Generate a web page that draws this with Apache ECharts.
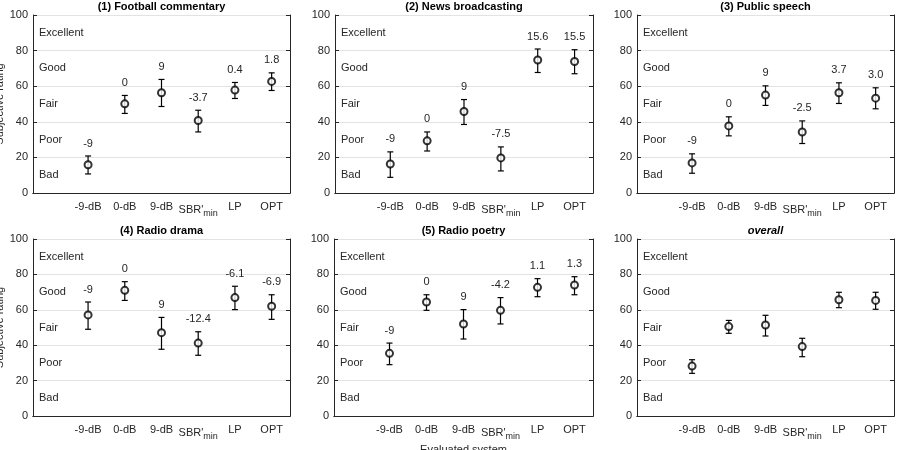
<!DOCTYPE html>
<html>
<head>
<meta charset="utf-8">
<script src="https://cdn.jsdelivr.net/npm/echarts@6/dist/echarts.min.js"></script>
<style>
  html, body { margin: 0; padding: 0; background: #fff; }
  #chart { width: 899px; height: 450px; }
</style>
</head>
<body>
<div id="chart"></div>
<script>
// first slot is left blank, like the original x limits
var categories = ['', '-9-dB', '0-dB', '9-dB', "SBR'min", 'LP', 'OPT'];
var levelNames = ['Excellent', 'Good', 'Fair', 'Poor', 'Bad'];
var levelValues = [90, 70, 50, 30, 10];
var yTicks = [0, 20, 40, 60, 80, 100];

var titles = ['(1) Football commentary', '(2) News broadcasting', '(3) Public speech',
              '(4) Radio drama', '(5) Radio poetry', 'overall'];

var footballMean  = [15.9, 50.1, 56.3, 40.7, 57.8, 62.7];
var footballUpper = [20.8, 54.8, 63.8, 46.5, 62.1, 67.5];
var footballLower = [10.7, 44.7, 48.6, 34.3, 53.1, 57.6];
var footballText  = ['-9', '0', '9', '-3.7', '0.4', '1.8'];

var newsMean  = [16.3, 29.3, 45.8, 19.7, 74.7, 73.9];
var newsUpper = [23.1, 34.3, 52.5, 25.9, 80.9, 80.5];
var newsLower = [8.8, 23.6, 38.5, 12.4, 67.7, 67.0];
var newsText  = ['-9', '0', '9', '-7.5', '15.6', '15.5'];

var speechMean  = [16.9, 37.7, 55.0, 34.3, 56.3, 53.3];
var speechUpper = [22.0, 42.8, 60.2, 40.5, 61.9, 59.1];
var speechLower = [11.1, 32.1, 49.2, 27.8, 50.3, 47.3];
var speechText  = ['-9', '0', '9', '-2.5', '3.7', '3.0'];

var dramaMean  = [57.1, 71.0, 47.1, 41.2, 66.9, 62.0];
var dramaUpper = [64.4, 75.9, 55.7, 47.6, 73.3, 68.5];
var dramaLower = [49.0, 65.3, 37.7, 34.3, 60.1, 54.6];
var dramaText  = ['-9', '0', '9', '-12.4', '-6.1', '-6.9'];

var poetryMean  = [35.4, 64.4, 52.0, 59.7, 72.7, 74.0];
var poetryUpper = [41.2, 68.5, 60.1, 66.9, 77.6, 78.7];
var poetryLower = [29.0, 59.7, 43.5, 52.0, 67.4, 68.5];
var poetryText  = ['-9', '0', '9', '-4.2', '1.1', '1.3'];

var overallMean  = [28.2, 50.5, 51.4, 39.2, 65.7, 65.3];
var overallUpper = [31.8, 54.0, 56.9, 43.9, 69.9, 69.9];
var overallLower = [24.1, 46.7, 45.2, 33.5, 61.2, 60.3];
var overallText  = ['', '', '', '', '', ''];

var panels = [
  {mean: footballMean, upper: footballUpper, lower: footballLower, text: footballText},
  {mean: newsMean, upper: newsUpper, lower: newsLower, text: newsText},
  {mean: speechMean, upper: speechUpper, lower: speechLower, text: speechText},
  {mean: dramaMean, upper: dramaUpper, lower: dramaLower, text: dramaText},
  {mean: poetryMean, upper: poetryUpper, lower: poetryLower, text: poetryText},
  {mean: overallMean, upper: overallUpper, lower: overallLower, text: overallText}
];

var grids = [
  {left: 33, top: 15, width: 257, height: 178},
  {left: 335, top: 15, width: 258, height: 178},
  {left: 637, top: 15, width: 257, height: 178},
  {left: 33, top: 239, width: 257, height: 177},
  {left: 334, top: 239, width: 259, height: 177},
  {left: 637, top: 239, width: 257, height: 177}
];

var FONT = '"Liberation Sans", Arial, Helvetica, sans-serif';
var INK = '#262626';

var chart = echarts.init(document.getElementById('chart'));

var option = {
  backgroundColor: '#fff',
  animation: false,
  textStyle: {fontFamily: FONT},
  title: [],
  grid: [],
  xAxis: [],
  yAxis: [],
  series: []
};

grids.forEach(function (g, i) {
  option.grid.push({left: g.left, top: g.top, width: g.width, height: g.height,
                    containLabel: false, outerBoundsMode: 'none'});
  option.title.push({
    text: titles[i],
    left: g.left + g.width / 2,
    top: g.top - 14,
    padding: 0,
    textAlign: 'center',
    textStyle: {fontFamily: FONT, fontSize: 11, fontWeight: 'bold',
                fontStyle: i === 5 ? 'italic' : 'normal', color: '#000'}
  });

  // bottom x axis
  option.xAxis.push({
    type: 'category', gridIndex: i, data: categories, position: 'bottom',
    name: i === 4 ? 'Evaluated system' : '',
    nameLocation: 'middle', nameGap: 28,
    nameTextStyle: {fontFamily: FONT, fontSize: 11, color: INK},
    axisLine: {lineStyle: {color: INK, width: 1}},
    axisTick: {inside: true, length: 4, alignWithLabel: true,
               interval: function (idx) { return idx > 0; },
               lineStyle: {color: INK}},
    axisLabel: {
      interval: 0, margin: 8, color: INK, fontSize: 11, fontFamily: FONT,
      formatter: function (v) { return v === "SBR'min" ? "SBR'{sub|min}" : v; },
      rich: {sub: {fontSize: 9, fontFamily: FONT, color: INK, verticalAlign: 'bottom', padding: [8, 0, 0, 0]}}
    },
    splitLine: {show: false}
  });
  // top x axis (box)
  option.xAxis.push({
    type: 'category', gridIndex: i, data: categories, position: 'top',
    axisLine: {lineStyle: {color: INK, width: 1}},
    axisTick: {inside: true, length: 4, alignWithLabel: true,
               interval: function (idx) { return idx > 0; },
               lineStyle: {color: INK}},
    axisLabel: {show: false},
    splitLine: {show: false}
  });
  // left y axis
  option.yAxis.push({
    type: 'value', gridIndex: i, min: yTicks[0], max: yTicks[yTicks.length - 1], interval: 20,
    position: 'left',
    name: (i === 0 || i === 3) ? 'Subjective rating' : '',
    nameLocation: 'middle', nameGap: 26,
    nameTextStyle: {fontFamily: FONT, fontSize: 11, color: INK},
    axisLine: {show: true, lineStyle: {color: INK, width: 1}},
    axisTick: {show: true, inside: true, length: 4, lineStyle: {color: INK}},
    axisLabel: {color: INK, fontSize: 11, fontFamily: FONT, margin: 5},
    splitLine: {show: true, lineStyle: {color: '#e3e3e3', width: 1}}
  });
  // right y axis (box)
  option.yAxis.push({
    type: 'value', gridIndex: i, min: 0, max: 100, interval: 20, position: 'right',
    axisLine: {show: true, lineStyle: {color: INK, width: 1}},
    axisTick: {show: true, inside: true, length: 4, lineStyle: {color: INK}},
    axisLabel: {show: false},
    splitLine: {show: false}
  });

  var p = panels[i];
  var xa = 2 * i, ya = 2 * i;

  // quality-scale words on the left of every panel
  option.series.push({
    type: 'custom', xAxisIndex: xa, yAxisIndex: ya, silent: true,
    data: levelValues.map(function (v, k) { return [0, v, levelNames[k]]; }),
    encode: {x: 0, y: 1},
    renderItem: function (params, api) {
      var cs = params.coordSys;
      var pt = api.coord([0, api.value(1)]);
      return {
        type: 'text',
        style: {x: cs.x + 6, y: pt[1], text: levelNames[params.dataIndex],
                fill: INK, font: '11px ' + FONT, verticalAlign: 'middle', align: 'left'}
      };
    }
  });

  // error bars + value text above
  option.series.push({
    type: 'custom', xAxisIndex: xa, yAxisIndex: ya, silent: true,
    data: p.mean.map(function (m, k) { return [k + 1, p.lower[k], p.upper[k]]; }),
    encode: {x: 0, y: [1, 2]},
    renderItem: function (params, api) {
      var x = api.value(0);
      var lo = api.coord([x, api.value(1)]);
      var hi = api.coord([x, api.value(2)]);
      var cap = 3;
      var st = {stroke: '#000', lineWidth: 1.2};
      var kids = [
        {type: 'line', shape: {x1: lo[0], y1: lo[1], x2: hi[0], y2: hi[1]}, style: st},
        {type: 'line', shape: {x1: lo[0] - cap, y1: lo[1], x2: lo[0] + cap, y2: lo[1]}, style: st},
        {type: 'line', shape: {x1: hi[0] - cap, y1: hi[1], x2: hi[0] + cap, y2: hi[1]}, style: st}
      ];
      var t = p.text[params.dataIndex];
      if (t) {
        kids.push({type: 'text', style: {x: hi[0], y: hi[1] - 12.5, text: t, fill: INK,
                   font: '11px ' + FONT, align: 'center', verticalAlign: 'middle'}});
      }
      return {type: 'group', children: kids};
    }
  });

  // mean markers
  option.series.push({
    type: 'scatter', xAxisIndex: xa, yAxisIndex: ya, silent: true,
    symbol: 'emptyCircle', symbolSize: 7,
    itemStyle: {color: '#000', borderColor: '#000', borderWidth: 1},
    data: p.mean.map(function (m, k) { return [k + 1, m]; }),
    z: 5
  });
});

chart.setOption(option);
</script>
</body>
</html>
